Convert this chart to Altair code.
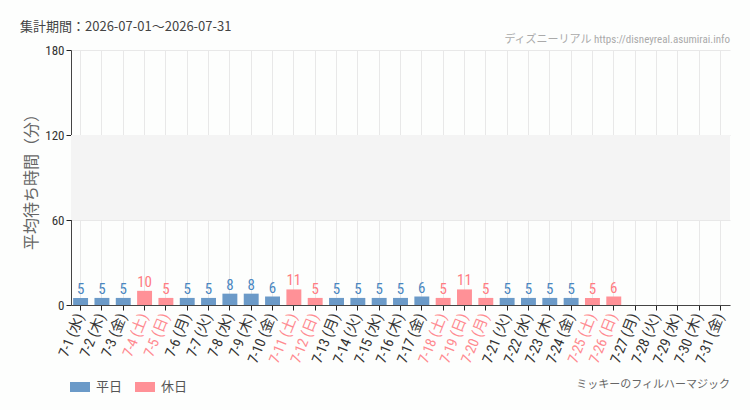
import altair as alt
import pandas as pd

dates = [f"7-{d}" for d in range(1, 32)]
weekdays = ["水", "木", "金", "土", "日", "月", "火"] * 5
weekdays = weekdays[:31]
values = [5, 5, 5, 10, 5, 5, 5, 8, 8, 6, 11, 5, 5, 5, 5, 5, 6, 5, 11, 5, 5, 5, 5, 5, 5, 6,
          None, None, None, None, None]
holidays = ["7-4", "7-5", "7-11", "7-12", "7-18", "7-19", "7-20", "7-25", "7-26"]

labels = [f"{d} ({w})" for d, w in zip(dates, weekdays)]
kinds = ["休日" if d in holidays else "平日" for d in dates]
holiday_labels = [l for l, d in zip(labels, dates) if d in holidays]

df = pd.DataFrame({"label": labels, "value": values, "kind": kinds})

BLUE = "#6b9ac8"
PINK = "#ff9197"
FONT = "Roboto Condensed, Liberation Sans Narrow, DejaVu Sans Condensed, Noto Sans CJK JP, sans-serif"

test_expr = "indexof(" + str(holiday_labels).replace('"', "'") + ", datum.value) >= 0"

x_enc = alt.X(
    "label:N", sort=labels, title=None,
    scale=alt.Scale(paddingInner=0.3, paddingOuter=0.1),
    axis=alt.Axis(
        labelAngle=-68, labelFontSize=14.5, labelFont=FONT,
        labelColor={"condition": {"test": test_expr, "value": "#ff8a90"}, "value": "#333333"},
        grid=True, gridColor="#e8e8e8", domainColor="#444444", tickColor="#222222",
        tickSize=5, labelPadding=4,
    ),
)
y_scale = alt.Scale(domain=[0, 180])
y_enc = alt.Y(
    "value:Q", scale=y_scale, title="平均待ち時間（分）",
    axis=alt.Axis(
        values=[0, 60, 120, 180], labelFontSize=13, labelFont=FONT, labelColor="#333333",
        titleFontSize=16, titleColor="#666666", titleFontWeight="normal",
        titleFont="Noto Sans CJK JP", titlePadding=5,
        gridColor="#e8e8e8", domainColor="#444444", tickColor="#222222", tickSize=5,
    ),
)

band_df = pd.DataFrame({"y1": [60], "y2": [120]})
band = alt.Chart(band_df).mark_rect(color="#f4f4f4").encode(
    x=alt.value(0), x2=alt.value(659),
    y=alt.Y("y1:Q", scale=y_scale), y2="y2:Q",
)

color_scale = alt.Scale(domain=["平日", "休日"], range=[BLUE, PINK])

bars = alt.Chart(df).mark_bar().encode(
    x=x_enc, y=y_enc,
    color=alt.Color("kind:N", scale=color_scale, title=None, legend=alt.Legend(
        orient="none", legendX=-1, legendY=327, direction="horizontal",
        symbolType="M-1,-0.5L1,-0.5L1,0.5L-1,0.5Z", symbolSize=400,
        symbolStrokeWidth=0, labelFontSize=13, labelColor="#555555",
        labelFont="Noto Sans CJK JP", columnPadding=12, labelOffset=6,
    )),
)

text = alt.Chart(df).transform_filter("datum.value != null").mark_text(
    dy=-9, fontSize=15, font=FONT
).encode(
    x=alt.X("label:N", sort=labels),
    y=alt.Y("value:Q", scale=y_scale),
    text="value:Q",
    color=alt.Color("kind:N", scale=alt.Scale(domain=["平日", "休日"], range=["#4a86c0", "#ff7b82"]), legend=None),
)

title_df = pd.DataFrame({"t": ["集計期間：2026-07-01～2026-07-31"]})
title = alt.Chart(title_df).mark_text(align="left", fontSize=13, color="#444444",
                                      font="Noto Sans CJK JP").encode(
    x=alt.value(-51), y=alt.value(-23), text="t:N")

site_df = pd.DataFrame({"t": ["ディズニーリアル https://disneyreal.asumirai.info"]})
site = alt.Chart(site_df).mark_text(align="right", fontSize=11, color="#aaaaaa",
                                    font=FONT).encode(
    x=alt.value(659), y=alt.value(-10), text="t:N")

attr_df = pd.DataFrame({"t": ["ミッキーのフィルハーマジック"]})
attr = alt.Chart(attr_df).mark_text(align="right", fontSize=11, color="#666666",
                                    font=FONT).encode(
    x=alt.value(659), y=alt.value(335), text="t:N")

chart = alt.layer(band, bars, text, title, site, attr).resolve_scale(color="independent").properties(
    width=659, height=255,
    autosize=alt.AutoSizeParams(type="none"),
    padding={"left": 71, "top": 50, "right": 20, "bottom": 105},
    background="#fdfefd",
).configure_view(stroke=None)

chart.save("out.html", embed_options={"renderer": "svg", "actions": False})
